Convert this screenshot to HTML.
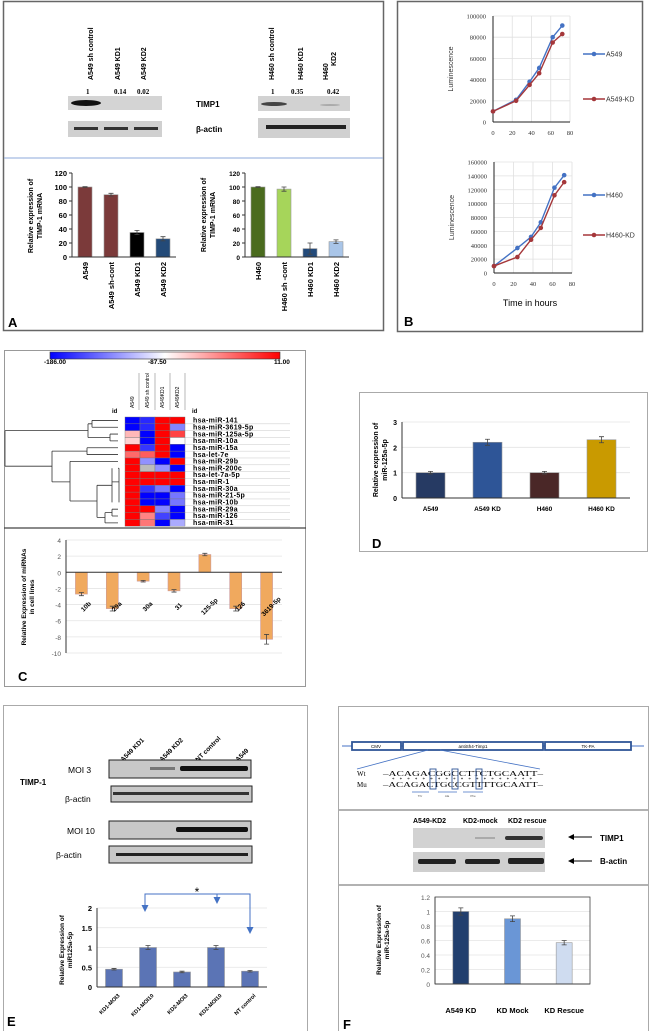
<!DOCTYPE html>
<html><head><meta charset="utf-8"><style>
html,body{margin:0;padding:0;background:#fff;}
svg{display:block;font-family:"Liberation Sans",Arial,sans-serif;}
.b{font-weight:bold;}
</style></head><body>
<svg id="fig" width="650" height="1031" viewBox="0 0 650 1031" xmlns="http://www.w3.org/2000/svg">
<defs>
<linearGradient id="cbar" x1="0" x2="1" y1="0" y2="0"><stop offset="0" stop-color="#0000ff"/><stop offset="0.5" stop-color="#ffffff"/><stop offset="1" stop-color="#ff0000"/></linearGradient>
</defs>

<!-- PANEL A -->
<g>
<rect x="3.5" y="1.5" width="380" height="329" fill="none" stroke="#666" stroke-width="1.5"/>
<line x1="4" y1="158" x2="383" y2="158" stroke="#8ea9db" stroke-width="1"/>
<g font-size="7" font-weight="bold" fill="#000">
<text transform="translate(93,80) rotate(-90)">A549 sh control</text>
<text transform="translate(120,80) rotate(-90)">A549  KD1</text>
<text transform="translate(146,80) rotate(-90)">A549  KD2</text>
<text transform="translate(274,80) rotate(-90)">H460  sh control</text>
<text transform="translate(303,80) rotate(-90)">H460  KD1</text>
<text transform="translate(328,80) rotate(-90)">H460</text>
<text transform="translate(336,66) rotate(-90)">KD2</text>
</g>
<g font-family="Liberation Serif,serif" font-size="7" font-weight="bold">
<text x="86" y="94">1</text><text x="114" y="94">0.14</text><text x="137" y="94">0.02</text>
<text x="271" y="94">1</text><text x="291" y="94">0.35</text><text x="327" y="94">0.42</text>
</g>
<rect x="68" y="96" width="94" height="14" fill="#d4d4d4"/>
<ellipse cx="86" cy="103" rx="15" ry="3" fill="#111"/>
<rect x="68" y="121" width="94" height="16" fill="#d0d0d0"/>
<rect x="74" y="127" width="24" height="3" fill="#333"/><rect x="104" y="127" width="24" height="3" fill="#333"/><rect x="134" y="127" width="24" height="3" fill="#333"/>
<rect x="258" y="96" width="92" height="15" fill="#d2d2d2"/>
<ellipse cx="274" cy="104" rx="13" ry="2" fill="#444"/><ellipse cx="330" cy="105" rx="10" ry="1" fill="#aaa"/>
<rect x="258" y="118" width="92" height="20" fill="#d0d0d0"/>
<rect x="266" y="125" width="80" height="4" fill="#222"/>
<text x="196" y="107" font-size="8" class="b">TIMP1</text>
<text x="196" y="132" font-size="8" class="b">β-actin</text>
<g font-size="7" font-weight="bold" text-anchor="middle">
<text transform="translate(33,216) rotate(-90)">Relative  expression of</text>
<text transform="translate(42,216) rotate(-90)">TIMP-1 mRNA</text>
<text transform="translate(206,215) rotate(-90)">Relative  expression of</text>
<text transform="translate(215,215) rotate(-90)">TIMP-1 mRNA</text>
</g>
<g id="chartA1"></g><g id="chartA2"></g>
<text x="8" y="327" font-size="13" class="b">A</text>
</g>

<!-- PANEL B -->
<g>
<rect x="397.5" y="1.5" width="245" height="330" fill="none" stroke="#666" stroke-width="1.5"/>
<g id="chartB1"></g><g id="chartB2"></g>
<text x="530" y="306" font-size="9" text-anchor="middle">Time in hours</text>
<text x="404" y="326" font-size="13" class="b">B</text>
</g>

<!-- PANEL C -->
<g>
<rect x="4.5" y="350.5" width="301" height="336" fill="none" stroke="#999" stroke-width="1"/>
<line x1="4" y1="528" x2="306" y2="528" stroke="#444" stroke-width="1.2"/>
<rect x="50" y="352" width="230" height="7" fill="url(#cbar)" stroke="#333" stroke-width="0.6"/>
<g font-size="6.5" class="b"><text x="44" y="364">-186.00</text><text x="148" y="364">-87.50</text><text x="274" y="364">11.00</text></g>
<g font-size="5">
<text transform="translate(134,408) rotate(-90)">A549</text>
<text transform="translate(149,408) rotate(-90)">A549 sh control</text>
<text transform="translate(164,408) rotate(-90)">A549KD1</text>
<text transform="translate(179,408) rotate(-90)">A549KD2</text>
</g>
<g stroke="#888" stroke-width="0.6"><line x1="139" y1="373" x2="139" y2="410"/><line x1="155" y1="373" x2="155" y2="410"/><line x1="170" y1="373" x2="170" y2="410"/><line x1="185" y1="373" x2="185" y2="410"/></g>
<text x="112" y="413" font-size="6" class="b">id</text><text x="192" y="413" font-size="6" class="b">id</text>
<g id="dendro" stroke="#333" stroke-width="0.8" fill="none"></g>
<g id="heat"></g>
<g id="chartC"></g>
<text x="18" y="681" font-size="13" class="b">C</text>
</g>

<!-- PANEL D -->
<g>
<rect x="359.5" y="392.5" width="288" height="159" fill="none" stroke="#aaa" stroke-width="1"/>
<g font-size="7" font-weight="bold" text-anchor="middle">
<text transform="translate(378,460) rotate(-90)">Relative expression of</text>
<text transform="translate(387,460) rotate(-90)">miR-125a-5p</text>
</g>
<g id="chartD"></g>
<text x="372" y="548" font-size="13" class="b">D</text>
</g>

<!-- PANEL E -->
<g>
<rect x="3.5" y="705.5" width="304" height="330" fill="none" stroke="#aaa" stroke-width="1"/>
<g font-size="6.5" font-weight="bold">
<text transform="translate(123,762) rotate(-45)">A549 KD1</text>
<text transform="translate(162,762) rotate(-45)">A549 KD2</text>
<text transform="translate(198,762) rotate(-45)">NT control</text>
<text transform="translate(238,762) rotate(-45)">A549</text>
</g>
<rect x="109" y="760" width="142" height="18" fill="#c8c8c8" stroke="#222"/>
<rect x="180" y="766" width="68" height="5" rx="2" fill="#111"/><rect x="150" y="767" width="25" height="3" fill="#777"/>
<rect x="111" y="786" width="141" height="16" fill="#c8c8c8" stroke="#222"/>
<rect x="113" y="792" width="136" height="3" fill="#333"/>
<rect x="109" y="821" width="142" height="18" fill="#c8c8c8" stroke="#222"/>
<rect x="176" y="827" width="72" height="5" rx="2" fill="#111"/>
<rect x="109" y="846" width="143" height="17" fill="#c8c8c8" stroke="#222"/>
<rect x="116" y="853" width="132" height="3" fill="#222"/>
<text x="68" y="773" font-size="8.5">MOI 3</text>
<text x="20" y="785" font-size="8" class="b">TIMP-1</text>
<text x="65" y="802" font-size="8.5">β-actin</text>
<text x="67" y="834" font-size="8.5">MOI 10</text>
<text x="56" y="858" font-size="8.5">β-actin</text>
<g font-size="6.5" font-weight="bold" text-anchor="middle">
<text transform="translate(64,950) rotate(-90)">Relative Expression of</text>
<text transform="translate(72,950) rotate(-90)">miR125a-5p</text>
</g>
<g id="chartE"></g>
<g>
<polyline points="145,906 145,894 250,894 250,928" fill="none" stroke="#4472c4" stroke-width="1"/>
<line x1="217" y1="894" x2="217" y2="898" stroke="#4472c4" stroke-width="1"/>
<path d="M141.5,905 h7 l-3.5,7 z M213.5,897 h7 l-3.5,7 z M246.5,927 h7 l-3.5,7 z" fill="#4472c4"/>
</g>
<text x="197" y="896" font-size="12" text-anchor="middle">*</text>
<text x="7" y="1026" font-size="13" class="b">E</text>
</g>

<!-- PANEL F -->
<g>
<rect x="338.5" y="706.5" width="310" height="330" fill="none" stroke="#aaa" stroke-width="1"/>
<line x1="339" y1="810" x2="648" y2="810" stroke="#666"/>
<line x1="339" y1="885" x2="648" y2="885" stroke="#666"/>
<line x1="342" y1="746" x2="644" y2="746" stroke="#4472c4"/>
<g fill="#fff" stroke="#2f5597" stroke-width="1.8">
<rect x="352" y="742" width="49" height="8"/>
<rect x="403" y="742" width="140" height="8"/>
<rect x="545" y="742" width="86" height="8"/>
</g>
<g font-size="4.5" text-anchor="middle"><text x="376" y="748">CMV</text><text x="473" y="748">antiSh4-Timp1</text><text x="588" y="748">TK-PA</text></g>
<line x1="357" y1="769" x2="428" y2="750" stroke="#4472c4" stroke-width="0.8"/>
<line x1="440" y1="750" x2="540" y2="769" stroke="#4472c4" stroke-width="0.8"/>
<g font-family="Liberation Serif,serif" font-size="7">
<text x="357" y="776">Wt</text>
<text x="383" y="776" textLength="160" lengthAdjust="spacingAndGlyphs">–ACAGACGGCCTTCTGCAATT–</text>
<text x="392" y="781" font-size="5" textLength="140" lengthAdjust="spacing">* * * * * * * * * * * * * * * * * * *</text>
<text x="357" y="787">Mu</text>
<text x="383" y="787" textLength="160" lengthAdjust="spacingAndGlyphs">–ACAGACTGCCGTTTTGCAATT–</text>
</g>
<g fill="none" stroke="#2f5597" stroke-width="0.9"><rect x="430" y="769" width="6" height="20"/><rect x="452" y="769" width="6" height="20"/><rect x="476" y="769" width="6" height="20"/></g>
<g stroke="#4472c4" stroke-width="0.8"><line x1="412" y1="792" x2="429" y2="792"/><line x1="438" y1="792" x2="457" y2="792"/><line x1="463" y1="792" x2="483" y2="792"/></g>
<g font-size="3" fill="#555" text-anchor="middle"><text x="420" y="797">Thr</text><text x="447" y="797">Ala</text><text x="473" y="797">Phe</text></g>
<g font-size="7" font-weight="bold"><text x="413" y="823">A549-KD2</text><text x="463" y="823">KD2-mock</text><text x="508" y="823">KD2 rescue</text></g>
<rect x="413" y="828" width="132" height="20" fill="#d2d2d2"/>
<rect x="505" y="836" width="38" height="4" rx="2" fill="#333"/><rect x="475" y="837" width="20" height="2" fill="#aaa"/>
<rect x="413" y="852" width="132" height="20" fill="#cfcfcf"/>
<rect x="418" y="859" width="38" height="5" rx="2" fill="#222"/><rect x="465" y="859" width="35" height="5" rx="2" fill="#222"/><rect x="508" y="858" width="36" height="6" rx="2" fill="#222"/>
<g stroke="#000" stroke-width="1"><line x1="572" y1="837" x2="592" y2="837"/><line x1="572" y1="861" x2="592" y2="861"/></g>
<path d="M568,837 l6,-3 v6 z M568,861 l6,-3 v6 z" fill="#000"/>
<text x="600" y="841" font-size="8" class="b">TIMP1</text>
<text x="600" y="864" font-size="8" class="b">B-actin</text>
<g font-size="6.5" font-weight="bold" text-anchor="middle">
<text transform="translate(381,940) rotate(-90)">Relative Expression of</text>
<text transform="translate(389,940) rotate(-90)">miR-125a-5p</text>
</g>
<g id="chartF"></g>
<text x="343" y="1029" font-size="13" class="b">F</text>
</g>
</svg>

<script>
// ---------- DATA ----------
const aCats1 = ["A549", "A549 sh-cont", "A549 KD1", "A549 KD2"];
const aVals1 = [100, 89, 35, 26];
const aErr1 = [0.5, 2, 3, 3];
const aCats2 = ["H460", "H460 sh -cont", "H460 KD1", "H460 KD2"];
const aVals2 = [100, 97, 12, 22];
const aErr2 = [0.5, 3, 8, 2.5];
const aTicks = [0, 20, 40, 60, 80, 100, 120];

const bTimes = [0, 24, 38, 48, 62, 72];
const bA549 = [10000, 21000, 38000, 51000, 80000, 91000];
const bA549KD = [10000, 20000, 35000, 46000, 75000, 83000];
const bH460 = [10000, 36000, 52000, 73000, 123000, 141000];
const bH460KD = [10000, 23000, 48000, 65000, 112000, 131000];
const bXTicks = [0, 20, 40, 60, 80];
const bYTicks1 = [0, 20000, 40000, 60000, 80000, 100000];
const bYTicks2 = [0, 20000, 40000, 60000, 80000, 100000, 120000, 140000, 160000];

const heatRows = ["hsa-miR-141","hsa-miR-3619-5p","hsa-miR-125a-5p","hsa-miR-10a","hsa-miR-15a","hsa-let-7e","hsa-miR-29b","hsa-miR-200c","hsa-let-7a-5p","hsa-miR-1","hsa-miR-30a","hsa-miR-21-5p","hsa-miR-10b","hsa-miR-29a","hsa-miR-126","hsa-miR-31"];
const heatA549 = [-186, -186, -60, -70, 11, -30, 11, 11, 11, 11, 11, 11, 11, 11, 11, 11];
const heatSh = [-170, -170, -186, -186, -165, -25, -130, -87, 11, 11, -165, -186, -186, 11, -40, -35];
const heatKD1 = [11, 11, 11, 11, 11, 11, -186, -130, 11, 11, -140, -186, -186, -135, -160, -186];
const heatKD2 = [11, -135, -15, -87, -186, -186, 11, -186, 11, 11, -186, -140, -140, -186, -186, -120];

const cCats = ["10b", "29a", "30a", "31", "125-5p", "126", "3619-5p"];
const cVals = [-2.7, -4.5, -1.1, -2.3, 2.2, -4.5, -8.3];
const cErr = [0.2, 0.3, 0.1, 0.15, 0.15, 0.3, 0.6];
const cTicks = [4, 2, 0, -2, -4, -6, -8, -10];

const dCats = ["A549", "A549 KD", "H460", "H460 KD"];
const dVals = [1, 2.2, 1, 2.3];
const dErr = [0.05, 0.12, 0.05, 0.12];
const dTicks = [0, 1, 2, 3];

const eCats = ["KD1-MOI3", "KD1-MOI10", "KD2-MOI3", "KD2-MOI10", "NT control"];
const eVals = [0.45, 1.0, 0.38, 1.0, 0.4];
const eErr = [0.02, 0.05, 0.02, 0.05, 0.02];
const eTicks = [0, 0.5, 1, 1.5, 2];

const fCats = ["A549 KD", "KD Mock", "KD Rescue"];
const fVals = [1.0, 0.9, 0.57];
const fErr = [0.05, 0.04, 0.03];
const fTicks = [0, 0.2, 0.4, 0.6, 0.8, 1, 1.2];

// ---------- HELPERS ----------
const NS = "http://www.w3.org/2000/svg";
function mk(parent, tag, attrs, text) {
  const el = document.createElementNS(NS, tag);
  for (const k in attrs) el.setAttribute(k, attrs[k]);
  if (text !== undefined) el.textContent = text;
  parent.appendChild(el);
  return el;
}
function scale(d0, d1, r0, r1) { return v => r0 + (v - d0) * (r1 - r0) / (d1 - d0); }

function barChart(g, o) {
  const y = scale(o.min, o.max, o.y0, o.y1);
  const n = o.cats.length;
  const step = (o.xr - o.xl) / n;
  const x = i => o.xl + step * (i + 0.5);
  o.ticks.forEach(t => {
    if (o.grid) {
      const gl = mk(g, "line", {x1: o.xl, x2: o.xr, y1: y(t), y2: y(t), stroke: "#e4e4e4", "stroke-width": 0.8});
      
      
    } else {
      mk(g, "line", {x1: o.xl - 3, x2: o.xl, y1: y(t), y2: y(t), stroke: "#333"});
    }
    const tl = mk(g, "text", {x: o.xl - 5, y: y(t) + 3, "font-size": o.tfs || 7, "text-anchor": "end", "font-weight": o.tbold ? "bold" : "normal", fill: o.tcol || "#000"}, String(t));
    
    
  });
  const z = y(Math.max(o.min, 0));
  o.vals.forEach((v, i) => {
    const top = Math.min(y(v), z), h = Math.abs(y(v) - z);
    const col = Array.isArray(o.color) ? o.color[i] : o.color;
    const r = mk(g, "rect", {x: x(i) - o.bw / 2, y: top, width: o.bw, height: h, fill: col, stroke: o.stroke || "#999", "stroke-width": 0.6});
    
    
    if (o.err) {
      const e = o.err[i], yt = y(v + (v < 0 ? -e : e)), yb = y(v - (v < 0 ? -e : e));
      mk(g, "path", {d: `M${x(i)},${yt}V${yb}M${x(i)-2.5},${yt}h5M${x(i)-2.5},${yb}h5`, stroke: "#444", "stroke-width": 0.8, fill: "none"});
    }
    let lab;
    if (o.labRot === -90) {
      lab = mk(g, "text", {transform: `translate(${x(i) + 3},${o.labY}) rotate(-90)`, "font-size": o.lfs || 7.5, "font-weight": "bold", "text-anchor": "end"}, o.cats[i]);
    } else if (o.labRot === -45) {
      lab = mk(g, "text", {transform: `translate(${x(i) + (o.labDx || 0)},${o.labY}) rotate(-45)`, "font-size": o.lfs || 6.5, "font-weight": "bold", "text-anchor": o.labAnchor || "end"}, o.cats[i]);
    } else {
      lab = mk(g, "text", {x: x(i), y: o.labY, "font-size": o.lfs || 7, "font-weight": "bold", "text-anchor": "middle"}, o.cats[i]);
    }
    
    
  });
  mk(g, "line", {x1: o.xl, x2: o.xl, y1: o.y1, y2: o.y0, stroke: o.axisCol || "#333", "stroke-width": 1});
  mk(g, "line", {x1: o.xl, x2: o.xr, y1: z, y2: z, stroke: o.axisCol || "#333", "stroke-width": 1});
}

// ---------- PANEL A ----------
barChart(document.getElementById("chartA1"), {cats: aCats1, vals: aVals1, err: aErr1, ticks: aTicks, min: 0, max: 120, y0: 257, y1: 173, xl: 72, xr: 176, bw: 14, color: ["#7b3a3a", "#7b3a3a", "#000", "#234a78"], labRot: -90, labY: 262, tbold: true, tfs: 7.5});
barChart(document.getElementById("chartA2"), {cats: aCats2, vals: aVals2, err: aErr2, ticks: aTicks, min: 0, max: 120, y0: 257, y1: 173, xl: 245, xr: 349, bw: 14, color: ["#4a6b1e", "#a6d55a", "#234a7a", "#a9c5e8"], labRot: -90, labY: 262, tbold: true, tfs: 6.5});

// ---------- PANEL B ----------
function lineChart(g, o) {
  const x = scale(0, 80, o.xl, o.xr), y = scale(0, o.max, o.y0, o.y1);
  bXTicks.forEach(t => {
    mk(g, "line", {x1: x(t), x2: x(t), y1: o.y0, y2: o.y1, stroke: "#e0e0e0", "stroke-width": 0.8});
    const tl = mk(g, "text", {x: x(t), y: o.y0 + 13, "font-size": 6.5, "text-anchor": "middle", "font-family": "Liberation Serif,serif", fill: "#333"}, String(t));
    
    
  });
  o.yticks.forEach(t => {
    mk(g, "line", {x1: o.xl, x2: o.xr, y1: y(t), y2: y(t), stroke: "#e0e0e0", "stroke-width": 0.8});
    const tl = mk(g, "text", {x: o.xl - 7, y: y(t) + 2.5, "font-size": 6.5, "text-anchor": "end", "font-family": "Liberation Serif,serif", fill: "#333"}, String(t));
    
    
  });
  mk(g, "line", {x1: o.xl, x2: o.xl, y1: o.y1, y2: o.y0, stroke: "#222"});
  mk(g, "line", {x1: o.xl, x2: o.xr, y1: o.y0, y2: o.y0, stroke: "#222"});
  const t = mk(g, "text", {transform: `translate(${o.xl - 40},${(o.y0 + o.y1) / 2}) rotate(-90)`, "font-size": 7, "text-anchor": "middle", fill: "#333"}, "Luminescence");
  
  
  o.series.forEach((s, si) => {
    const pts = bTimes.map((tm, i) => x(tm) + "," + y(s.vals[i])).join(" ");
    const pl = mk(g, "polyline", {points: pts, fill: "none", stroke: s.col, "stroke-width": 1.4});
    
    
    bTimes.forEach((tm, i) => {
      const c = mk(g, "circle", {cx: x(tm), cy: y(s.vals[i]), r: 2.3, fill: s.col});
      
      
    });
    const ly = s.ly;
    mk(g, "line", {x1: 583, x2: 605, y1: ly, y2: ly, stroke: s.col, "stroke-width": 1.4});
    mk(g, "circle", {cx: 594, cy: ly, r: 2.3, fill: s.col});
    const le = mk(g, "text", {x: 606, y: ly + 2.5, "font-size": 7, fill: "#333"}, s.name);
    
    
  });
}
lineChart(document.getElementById("chartB1"), {xl: 493, xr: 570, y0: 122, y1: 16, max: 100000, yticks: bYTicks1,
  series: [{name: "A549", vals: bA549, col: "#4472c4", ly: 54}, {name: "A549-KD", vals: bA549KD, col: "#a5373a", ly: 99}]});
lineChart(document.getElementById("chartB2"), {xl: 494, xr: 572, y0: 273, y1: 162, max: 160000, yticks: bYTicks2,
  series: [{name: "H460", vals: bH460, col: "#4472c4", ly: 195}, {name: "H460-KD", vals: bH460KD, col: "#a5373a", ly: 235}]});

// ---------- PANEL C: heatmap ----------
(function () {
  const g = document.getElementById("heat");
  const rowH = 6.83, top = 417, x0 = 125, cw = 15;
  function col(v) {
    const t = (v + 186) / 197;
    if (t < 0.5) { const k = t / 0.5; const c = Math.round(255 * k); return `rgb(${c},${c},255)`; }
    const k = (t - 0.5) / 0.5; const c = Math.round(255 * (1 - k)); return `rgb(255,${c},${c})`;
  }
  const cols = [heatA549, heatSh, heatKD1, heatKD2];
  heatRows.forEach((name, r) => {
    cols.forEach((arr, c) => {
      const fill = (r === 7 && c === 1) ? "#bbbbbb" : col(arr[r]);
      const cell = mk(g, "rect", {x: x0 + c * cw, y: top + r * rowH, width: cw, height: rowH, fill: fill, stroke: "#777", "stroke-width": 0.4});
      
      
    });
    mk(g, "line", {x1: x0 + 4 * cw, x2: 290, y1: top + (r + 1) * rowH, y2: top + (r + 1) * rowH, stroke: "#bbb", "stroke-width": 0.4});
    const t = mk(g, "text", {x: 193, y: top + r * rowH + 5.6, "font-size": 7, "font-weight": "bold", "letter-spacing": "0.3"}, name);
    
    
  });
  const d = document.getElementById("dendro");
  const yc = i => top + rowH * (i + 0.5);
  const paths = [
    `M118,${yc(0)}H92M118,${yc(1)}H92M92,${yc(0)}V${yc(1)}`,
    `M118,${yc(2)}H110M118,${yc(3)}H110M110,${yc(2)}V${yc(3)}`,
    `M92,${(yc(0)+yc(1))/2}H88M110,${(yc(2)+yc(3))/2}H88M88,${(yc(0)+yc(1))/2}V${(yc(2)+yc(3))/2}`,
    `M118,${yc(4)}H87M118,${yc(5)}H87M87,${yc(4)}V${yc(5)}`,
    `M118,${yc(6)}H70`,
    `M118,${yc(7)}H119M119,${yc(7)}V${yc(12)}M119,${yc(9)}H112M112,${yc(7)}V${yc(12)}`,
    `M118,${yc(13)}H112M118,${yc(14)}H112M112,${yc(13)}V${yc(14)}M118,${yc(15)}H105M112,${(yc(13)+yc(14))/2}H105M105,${(yc(13)+yc(14))/2}V${yc(15)}`,
    `M112,${yc(9.5)}H97M105,${yc(14.2)}H97M97,${yc(9.5)}V${yc(14.2)}`,
    `M97,${yc(11.8)}H70M70,${yc(6)}V${yc(11.8)}`,
    `M87,${yc(4.5)}H52M70,${yc(9)}H52M52,${yc(4.5)}V${yc(9)}`,
    `M88,${yc(1.5)}H5M52,${yc(6.7)}H5M5,${yc(1.5)}V${yc(6.7)}`
  ];
  paths.forEach(p => mk(d, "path", {d: p}));
})();

// ---------- PANEL C: bar chart ----------
barChart(document.getElementById("chartC"), {cats: cCats, vals: cVals, err: cErr, ticks: cTicks, min: -10, max: 4, y0: 653, y1: 540, xl: 66, xr: 282, bw: 12, color: "#f0a95e", stroke: "#c99", grid: true, labRot: -45, labY: 608, labDx: 6, labAnchor: "middle", tcol: "#555", tfs: 6.5});
(function () {
  const g = document.getElementById("chartC");
  mk(g, "text", {transform: "translate(26,597) rotate(-90)", "font-size": 6.5, "font-weight": "bold", "text-anchor": "middle"}, "Relative Expression of miRNAs");
  mk(g, "text", {transform: "translate(34,597) rotate(-90)", "font-size": 6.5, "font-weight": "bold", "text-anchor": "middle"}, "in cell lines");
})();

// ---------- PANEL D ----------
barChart(document.getElementById("chartD"), {cats: dCats, vals: dVals, err: dErr, ticks: dTicks, min: 0, max: 3, y0: 498, y1: 422, xl: 402, xr: 630, bw: 29, color: ["#263a63", "#2e5597", "#4a2727", "#c99a00"], grid: true, labY: 511, lfs: 6.5, tfs: 7, tbold: true});

// ---------- PANEL E ----------
barChart(document.getElementById("chartE"), {cats: eCats, vals: eVals, err: eErr, ticks: eTicks, min: 0, max: 2, y0: 987, y1: 908, xl: 97, xr: 267, bw: 17, color: "#5b74b5", grid: true, labRot: -45, labY: 996, labDx: 6, lfs: 5.5, tfs: 7.5, tbold: true});

// ---------- PANEL F ----------
barChart(document.getElementById("chartF"), {cats: fCats, vals: fVals, err: fErr, ticks: fTicks, min: 0, max: 1.2, y0: 984, y1: 897, xl: 435, xr: 590, bw: 16, color: ["#223f6e", "#6a96d6", "#cfdcf0"], grid: true, labY: 1013, lfs: 7.5, tfs: 6.5, tcol: "#555"});
(function () {
  const g = document.getElementById("chartF");
  mk(g, "rect", {x: 435, y: 897, width: 155, height: 87, fill: "none", stroke: "#444", "stroke-width": 0.8});
})();
</script>
</body></html>
